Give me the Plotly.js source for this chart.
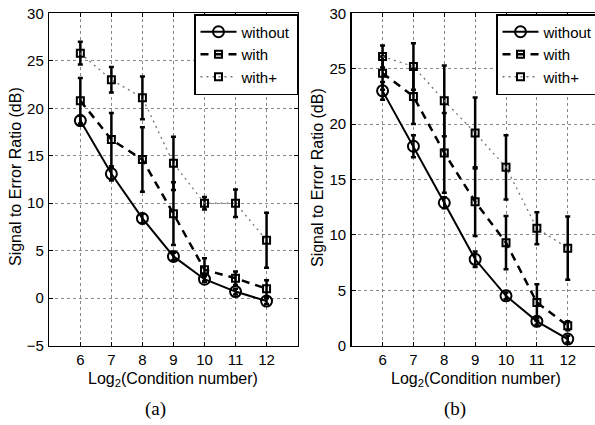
<!DOCTYPE html>
<html>
<head>
<meta charset="utf-8">
<script src="https://cdn.plot.ly/plotly-3.0.1.min.js"></script>
<style>
html,body{margin:0;padding:0;overflow:hidden;background:#fff;}
#chart{width:620px;height:425px;}
</style>
</head>
<body>
<div id="chart"></div>
<script>
// ---- data ----
const conditionLog2 = [6, 7, 8, 9, 10, 11, 12];
const seriesNames = ["without", "with", "with+"];

// panel (a)
const aWithout      = [18.7, 13.1, 8.4, 4.4, 2.0, 0.7, -0.3];
const aWithoutErr   = [0.5, 0.7, 0.5, 0.4, 0.3, 0.3, 0.3];
const aWith         = [20.8, 16.7, 14.6, 8.9, 3.0, 2.1, 1.0];
const aWithErr      = [2.4, 2.8, 3.4, 3.3, 1.2, 0.7, 0.9];
const aWithPlus     = [25.8, 23.0, 21.1, 14.2, 10.0, 10.0, 6.1];
const aWithPlusErr  = [1.2, 1.35, 2.25, 2.8, 0.65, 1.45, 2.9];

// panel (b)
const bWithout      = [23.0, 18.0, 12.9, 7.8, 4.5, 2.2, 0.6];
const bWithoutErr   = [0.8, 1.0, 0.5, 0.7, 0.3, 0.3, 0.3];
const bWith         = [24.6, 22.5, 17.4, 13.0, 9.3, 3.9, 1.8];
const bWithErr      = [1.5, 2.5, 3.6, 3.1, 2.4, 1.65, 0.4];
const bWithPlus     = [26.1, 25.2, 22.1, 19.2, 16.1, 10.6, 8.8];
const bWithPlusErr  = [1.0, 2.1, 3.2, 3.2, 2.9, 1.45, 2.85];

const yTitle = "Signal to Error Ratio (dB)";
const xTitle = "Log<sub>2</sub>(Condition number)";
const captions = ["(a)", "(b)"];

// ---- styles ----
const FONT = "Liberation Sans, Arial, Helvetica, sans-serif";
const SERIF = "Liberation Serif, Times New Roman, serif";
const W = 620, H = 425;
const styles = [
  {line:{color:"#000", width:2, dash:"solid"}, marker:{symbol:"circle-open", size:11, color:"#000", line:{width:2, color:"#000"}}},
  {line:{color:"#000", width:2.5, dash:"8px,6px"}, marker:{symbol:"square-open", size:7, color:"#000", line:{width:2, color:"#000"}}},
  {line:{color:"#777", width:1.3, dash:"2px,4px"}, marker:{symbol:"square-open", size:7, color:"#000", line:{width:2, color:"#000"}}}
];

function mk(y, err, i, xa, ya, leg) {
  return {
    x: conditionLog2, y: y, name: seriesNames[i], type: "scatter", mode: "lines+markers",
    xaxis: xa, yaxis: ya, legend: leg,
    line: styles[i].line, marker: styles[i].marker,
    error_y: {type:"data", array: err, visible:true, color:"#000", thickness:2.5, width:2.5}
  };
}

const traces = [
  mk(aWithout, aWithoutErr, 0, "x", "y", "legend"),
  mk(aWith, aWithErr, 1, "x", "y", "legend"),
  mk(aWithPlus, aWithPlusErr, 2, "x", "y", "legend"),
  mk(bWithout, bWithoutErr, 0, "x2", "y2", "legend2"),
  mk(bWith, bWithErr, 1, "x2", "y2", "legend2"),
  mk(bWithPlus, bWithPlusErr, 2, "x2", "y2", "legend2")
];

const yDom = [(H - 345.7) / H, (H - 13.3) / H];
const TICKFONT = {family: FONT, size: 15, color: "#000"};
function xaxis(dom, anchor) {
  return {domain: dom, anchor: anchor, range: [5, 13], tickvals: conditionLog2,
    showline: true, linecolor: "#000", linewidth: 1.5, mirror: "ticks",
    ticks: "inside", ticklen: 4, tickcolor: "#000", tickwidth: 1,
    showgrid: true, gridcolor: "#888", gridwidth: 1, griddash: "dot", zeroline: false,
    tickfont: TICKFONT, ticklabelstandoff: 0, fixedrange: true};
}
function yaxis(rng, anchor) {
  return {domain: yDom, anchor: anchor, range: rng, dtick: 5, tick0: 0,
    showline: true, linecolor: "#000", linewidth: 1.5, mirror: "ticks",
    ticks: "inside", ticklen: 4, tickcolor: "#000", tickwidth: 1,
    showgrid: true, gridcolor: "#888", gridwidth: 1, griddash: "dot", zeroline: false,
    tickfont: TICKFONT, ticklabelstandoff: 1, fixedrange: true};
}
function legend(xpx) {
  return {x: xpx / W, y: 1 - 14 / H, xanchor: "left", yanchor: "top",
    bgcolor: "#fff", bordercolor: "#000", borderwidth: 1.5,
    font: {family: FONT, size: 15, color: "#000"}, itemwidth: 36, tracegroupgap: 0};
}

const ann = [];
function addText(text, xpx, ypx, opts) {
  ann.push(Object.assign({text: text, xref: "paper", yref: "paper", x: xpx / W, y: 1 - ypx / H,
    xanchor: "center", yanchor: "middle", showarrow: false,
    font: {family: FONT, size: 16, color: "#000"}}, opts || {}));
}
addText(yTitle, 15, 177, {textangle: -90});
addText(yTitle, 317, 177, {textangle: -90});
addText(xTitle, 173, 379.5);
addText(xTitle, 476, 379.5);
addText(captions[0], 156, 409, {font: {family: SERIF, size: 19, color: "#000"}});
addText(captions[1], 455, 409, {font: {family: SERIF, size: 19, color: "#000"}});

const layout = {
  width: W, height: H,
  margin: {l: 0, r: 0, t: 0, b: 0, autoexpand: false},
  paper_bgcolor: "#fff", plot_bgcolor: "#fff",
  font: {family: FONT, size: 16, color: "#000"},
  showlegend: true,
  xaxis: xaxis([49.3 / W, 297.6 / W], "y"),
  yaxis: yaxis([-5, 30], "x"),
  xaxis2: xaxis([351.7 / W, 598.6 / W], "y2"),
  yaxis2: yaxis([0, 30], "x2"),
  legend: legend(194),
  legend2: legend(496),
  annotations: ann
};

Plotly.newPlot("chart", traces, layout, {displayModeBar: false, staticPlot: true});
</script>
</body>
</html>
